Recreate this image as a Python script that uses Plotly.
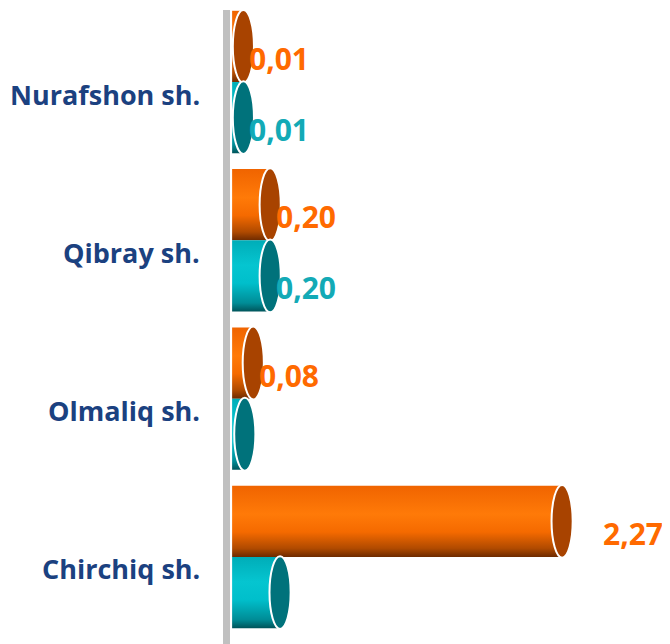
import plotly.graph_objects as go

# data (top to bottom as in the picture)
categories = ["Nurafshon sh.", "Qibray sh.", "Olmaliq sh.", "Chirchiq sh."]
orange_values = [0.01, 0.20, 0.08, 2.27]
teal_values = [0.01, 0.20, 0.02, 0.27]
orange_show = [True, True, True, True]
teal_show = [True, True, False, False]

FONT = "Open Sans"
NAVY = "#1B4180"
ORANGE_TXT = "#FF6A00"
TEAL_TXT = "#13AAB6"
X0 = -0.07      # bodies start at the axis line
CAP_RX = 0.075  # half-width of end cap, in x units
BAR_H = 0.45

orange_scale = [[0, "#6E2B00"], [0.12, "#B04A00"], [0.35, "#F56A00"],
                [0.6, "#FF7A08"], [1, "#F06400"]]
teal_scale = [[0, "#00545A"], [0.12, "#008C96"], [0.4, "#00BFCB"],
              [0.65, "#05C5D0"], [1, "#00ADB8"]]


def fmt(v):
    return f"{v:.2f}".replace(".", ",")


fig = go.Figure()
shapes = []
annotations = []
n = len(categories)

for i, cat in enumerate(categories):
    c = n - 1 - i
    series = [
        (orange_values[i], c, c + BAR_H, orange_scale, "#A84300", ORANGE_TXT,
         orange_show[i], 28 if orange_values[i] > 1 else -7),
        (teal_values[i], c - BAR_H, c, teal_scale, "#00727B", TEAL_TXT,
         teal_show[i], -7),
    ]
    for v, lo, hi, scale, cap, txtcol, show, dx in series:
        fig.add_trace(go.Scatter(
            x=[X0, v, v, X0, X0], y=[lo, lo, hi, hi, lo],
            mode="lines", line=dict(width=0), fill="toself",
            fillgradient=dict(type="vertical", colorscale=scale, start=lo, stop=hi),
            hoverinfo="skip", showlegend=False))
        shapes.append(dict(type="circle", xref="x", yref="y",
                           x0=v - CAP_RX, x1=v + CAP_RX, y0=lo - 0.005, y1=hi + 0.005,
                           fillcolor=cap, line=dict(color="white", width=2)))
        if show:
            annotations.append(dict(x=v + CAP_RX, y=(lo + hi) / 2, xref="x", yref="y",
                                    text=f"<b>{fmt(v)}</b>", showarrow=False,
                                    xanchor="left", xshift=dx, yshift=-12,
                                    font=dict(family=FONT, size=30, color=txtcol)))
    annotations.append(dict(x=0, y=c, xref="paper", yref="y", text=f"<b>{cat}</b>",
                            showarrow=False, xanchor="right", xshift=-28, yshift=-12,
                            font=dict(family=FONT, size=27, color=NAVY)))

# page body adds an 8px offset, so the figure is sized to fill the window
fig.update_layout(
    width=662, height=636,
    margin=dict(l=222, r=0, t=2, b=0),
    plot_bgcolor="white", paper_bgcolor="white",
    shapes=shapes, annotations=annotations,
    xaxis=dict(range=[-0.085, 3.035], visible=False, fixedrange=True),
    yaxis=dict(range=[-0.55, 3.455], showticklabels=False, showgrid=False,
               zeroline=False, showline=True, linecolor="#C0C0C0", linewidth=7,
               ticks=""),
)

fig.write_html("out.html")
